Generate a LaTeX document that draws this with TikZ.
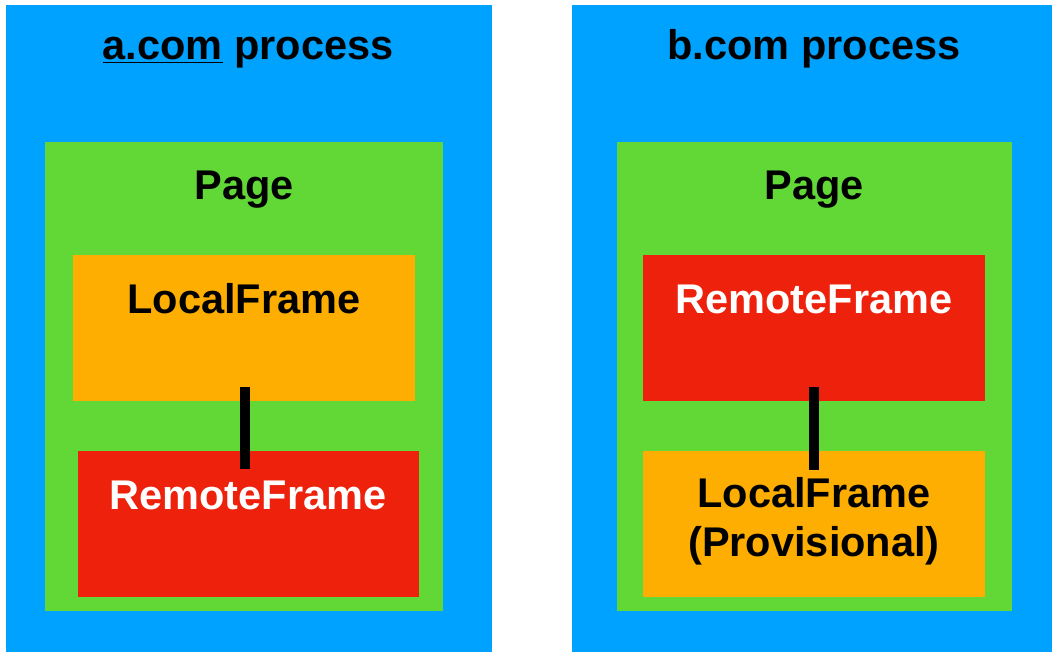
\documentclass[tikz,border=0pt]{standalone}
\usepackage{fontspec}
\setmainfont{Liberation Sans}
\usepackage{tikz}

\definecolor{procblue}{HTML}{00A2FF}
\definecolor{pagegreen}{HTML}{61D836}
\definecolor{frameorange}{HTML}{FEAE00}
\definecolor{framered}{HTML}{EE220C}

\begin{document}
\begin{tikzpicture}[x=1pt,y=-1pt,
    lbl/.style={anchor=base,inner sep=0pt,font=\fontsize{41.5}{47}\selectfont\bfseries},
    link/.style={line width=10pt}]
       \useasboundingbox[fill=white] (0,0) rectangle (1060,666);
       % a.com process
       \fill[procblue] (6,5) rectangle (492,652);
       \fill[pagegreen] (45,142) rectangle (443,611);
       \fill[frameorange] (73,255) rectangle (415,401);
       \fill[framered] (78,451) rectangle (419,597);
       \node[lbl] (ta) at (248,60) {\underline{a.com} process};
       \node[lbl] (pa) at (244,199) {Page};
       \node[lbl] (lfa) at (244,313) {LocalFrame};
       \node[lbl,white] (rfa) at (248,509) {RemoteFrame};
       \coordinate (ca1) at (245,387); \coordinate (ca2) at (245,469);
       \draw[link] (ca1) -- (ca2);
       % b.com process
       \fill[procblue] (572,5) rectangle (1052,652);
       \fill[pagegreen] (617,142) rectangle (1012,611);
       \fill[framered] (643,255) rectangle (985,401);
       \fill[frameorange] (643,451) rectangle (985,597);
       \node[lbl] (tb) at (814,60) {b.com process};
       \node[lbl] (pb) at (814,199) {Page};
       \node[lbl,white] (rfb) at (814,313) {RemoteFrame};
       \node[lbl] (lfb) at (814,507) {LocalFrame};
       \node[lbl] (prov) at (814,556) {(Provisional)};
       \coordinate (cb1) at (814,387); \coordinate (cb2) at (814,470);
       \draw[link] (cb1) -- (cb2);
\end{tikzpicture}
\end{document}
